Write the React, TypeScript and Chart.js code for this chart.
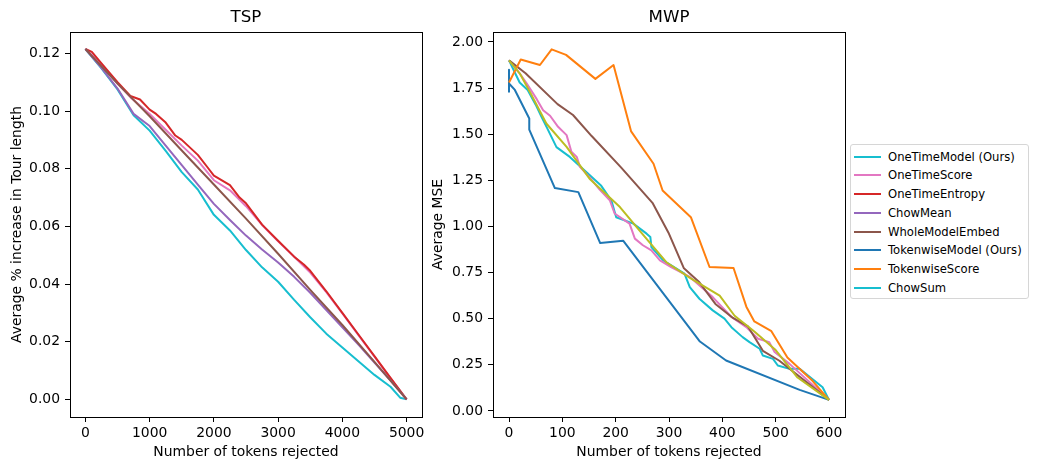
import React, { useEffect, useRef } from "react";
import { Chart, registerables } from "chart.js";

Chart.register(...registerables);

// ---------- tick values ----------
const TSP_X_TICKS = [0, 1000, 2000, 3000, 4000, 5000];
const TSP_Y_TICKS = [0, 0.02, 0.04, 0.06, 0.08, 0.1, 0.12];
const MWP_X_TICKS = [0, 100, 200, 300, 400, 500, 600];
const MWP_Y_TICKS = [0, 0.25, 0.5, 0.75, 1.0, 1.25, 1.5, 1.75, 2.0];

// ---------- TSP data ----------
const TSP_CYAN_X = [0, 250, 500, 750, 1000, 1250, 1500, 1750, 2000, 2250, 2500, 2750, 3000, 3250, 3500, 3750, 4000, 4250, 4500, 4750, 4900, 5000];
const TSP_CYAN_Y = [0.1215, 0.1148, 0.1075, 0.0985, 0.0932, 0.0862, 0.0788, 0.0728, 0.0640, 0.0586, 0.0518, 0.0458, 0.0408, 0.0345, 0.0285, 0.0228, 0.0180, 0.0132, 0.0085, 0.0044, 0.0006, 0.0];

const TSP_PINK_X = [0, 250, 500, 700, 1000, 1250, 1500, 1750, 2000, 2250, 2500, 2750, 3000, 3250, 3500, 3750, 4000, 4250, 4500, 4750, 5000];
const TSP_PINK_Y = [0.1215, 0.1162, 0.1095, 0.1048, 0.0990, 0.0935, 0.0880, 0.0828, 0.0760, 0.0725, 0.0670, 0.0605, 0.0548, 0.0495, 0.0440, 0.0372, 0.0298, 0.0223, 0.0148, 0.0073, 0.0];

const TSP_RED_X = [0, 100, 250, 500, 700, 850, 1000, 1100, 1250, 1400, 1500, 1750, 1900, 2000, 2250, 2400, 2500, 2600, 2750, 3000, 3250, 3400, 3500, 3750, 4000, 4250, 4500, 4750, 5000];
const TSP_RED_Y = [0.1215, 0.1205, 0.1165, 0.1100, 0.1052, 0.1040, 0.1005, 0.0990, 0.0960, 0.0915, 0.0900, 0.0848, 0.0805, 0.0776, 0.0743, 0.0700, 0.0680, 0.0650, 0.0606, 0.0550, 0.0495, 0.0468, 0.0446, 0.0375, 0.0300, 0.0225, 0.0150, 0.0075, 0.0];

const TSP_PURPLE_X = [0, 250, 500, 750, 1000, 1250, 1500, 1750, 2000, 2250, 2500, 2750, 3000, 3250, 3500, 3750, 4000, 4250, 4500, 4750, 5000];
const TSP_PURPLE_Y = [0.1215, 0.1150, 0.1078, 0.0990, 0.0948, 0.0880, 0.0812, 0.0745, 0.0678, 0.0622, 0.0568, 0.0520, 0.0475, 0.0425, 0.0370, 0.0310, 0.0250, 0.0190, 0.0128, 0.0065, 0.0];

const TSP_BROWN_X = [0, 500, 1000, 1500, 2000, 2500, 3000, 3500, 4000, 4500, 5000];
const TSP_BROWN_Y = [0.1215, 0.1095, 0.0982, 0.0863, 0.0745, 0.0627, 0.0505, 0.0380, 0.0258, 0.0130, 0.0];

// ---------- MWP data ----------
const MWP_CYAN_X = [0, 10, 20, 35, 50, 60, 72, 89, 114, 148, 173, 192, 201, 233, 258, 265, 267, 289, 329, 339, 357, 382, 404, 417, 438, 451, 470, 476, 495, 504, 526, 545, 588, 600];
const MWP_CYAN_Y = [1.90, 1.84, 1.78, 1.74, 1.66, 1.60, 1.53, 1.43, 1.377, 1.287, 1.22, 1.14, 1.05, 1.015, 0.961, 0.943, 0.888, 0.816, 0.744, 0.671, 0.608, 0.545, 0.50, 0.454, 0.40, 0.373, 0.337, 0.30, 0.282, 0.246, 0.228, 0.228, 0.128, 0.06];

const MWP_PINK_X = [0, 20, 33, 52, 64, 77, 92, 108, 117, 127, 133, 150, 170, 189, 198, 226, 236, 251, 267, 283, 304, 339, 382, 417, 445, 467, 488, 498, 526, 600];
const MWP_PINK_Y = [1.90, 1.83, 1.776, 1.69, 1.63, 1.60, 1.54, 1.495, 1.405, 1.377, 1.323, 1.27, 1.20, 1.142, 1.07, 1.015, 0.934, 0.898, 0.87, 0.816, 0.78, 0.726, 0.617, 0.509, 0.454, 0.391, 0.373, 0.319, 0.255, 0.06];

const MWP_BROWN_X = [0, 31, 91, 120, 155, 210, 269, 299, 328, 357, 387, 420, 448, 476, 507, 600];
const MWP_BROWN_Y = [1.90, 1.83, 1.663, 1.604, 1.49, 1.32, 1.128, 0.966, 0.773, 0.697, 0.58, 0.504, 0.458, 0.326, 0.272, 0.06];

const MWP_BLUE_X = [0, 0, 0, 11, 38, 38, 86, 130, 171, 214, 358, 407, 545, 600];
const MWP_BLUE_Y = [1.85, 1.73, 1.775, 1.74, 1.585, 1.525, 1.208, 1.186, 0.91, 0.923, 0.376, 0.273, 0.114, 0.06];

const MWP_ORANGE_X = [0, 22, 58, 80, 107, 162, 196, 229, 271, 288, 341, 376, 421, 445, 460, 492, 522, 569, 600];
const MWP_ORANGE_Y = [1.78, 1.905, 1.875, 1.96, 1.93, 1.80, 1.875, 1.515, 1.34, 1.195, 1.05, 0.78, 0.775, 0.565, 0.485, 0.432, 0.29, 0.163, 0.06];

const MWP_OLIVE_X = [0, 20, 39, 70, 108, 151, 208, 250, 295, 340, 395, 423, 460, 500, 541, 600];
const MWP_OLIVE_Y = [1.90, 1.83, 1.73, 1.558, 1.431, 1.259, 1.105, 0.96, 0.806, 0.72, 0.625, 0.516, 0.43, 0.33, 0.181, 0.06];

// ---------- legend ----------
const LEGEND_LABELS = ["OneTimeModel (Ours)", "OneTimeScore", "OneTimeEntropy", "ChowMean", "WholeModelEmbed", "TokenwiseModel (Ours)", "TokenwiseScore", "ChowSum"];
const LEGEND_COLORS = ["#17becf", "#e377c2", "#d62728", "#9467bd", "#8c564b", "#1f77b4", "#ff7f0e", "#17becf"];

const FONT = "'DejaVu Sans', sans-serif";

function zip(xs: number[], ys: number[]) {
  return xs.map((x, i) => ({ x, y: ys[i] }));
}

function ds(label: string, color: string, xs: number[], ys: number[], idx: number) {
  return {
    label,
    data: zip(xs, ys),
    borderColor: color,
    backgroundColor: color,
    borderWidth: 2,
    pointRadius: 0,
    tension: 0,
    fill: false,
    borderJoinStyle: "round" as const,
    order: -idx,
  };
}

const framePlugin = {
  id: "frame",
  afterDatasetsDraw(chart: any) {
    const { ctx, chartArea } = chart;
    ctx.save();
    ctx.strokeStyle = "#000";
    ctx.lineWidth = 1;
    ctx.strokeRect(
      Math.round(chartArea.left) + 0.5,
      Math.round(chartArea.top) + 0.5,
      Math.round(chartArea.right) - Math.round(chartArea.left),
      Math.round(chartArea.bottom) - Math.round(chartArea.top)
    );
    ctx.restore();
  },
};

function makeOptions(p: {
  title: string;
  xmin: number; xmax: number; xticks: number[];
  ymin: number; ymax: number; yticks: number[];
  ytitle: string; yWidth: number; yTitlePad: number; padRight: number;
}) {
  return {
    responsive: false,
    animation: false as const,
    devicePixelRatio: 1,
    layout: { padding: { left: 0, right: p.padRight, top: 0, bottom: 0 } },
    plugins: {
      legend: { display: false },
      tooltip: { enabled: false },
      title: {
        display: true,
        text: p.title,
        fullSize: false,
        color: "#000",
        font: { family: FONT, size: 16.67, weight: "normal" as const, lineHeight: 1.2 },
        padding: { top: 8, bottom: 4 },
      },
    },
    scales: {
      x: {
        type: "linear" as const,
        min: p.xmin,
        max: p.xmax,
        afterBuildTicks: (s: any) => { s.ticks = p.xticks.map((v) => ({ value: v })); },
        afterFit: (s: any) => { s.height = 53; },
        grid: { display: true, drawOnChartArea: false, drawTicks: true, tickLength: 5, tickColor: "#000", tickWidth: 1 },
        border: { display: false },
        ticks: {
          color: "#000",
          padding: 3,
          maxRotation: 0,
          autoSkip: false,
          font: { family: FONT, size: 13.9 },
          callback: (v: any) => String(Math.round(Number(v))),
        },
        title: {
          display: true,
          text: "Number of tokens rejected",
          color: "#000",
          font: { family: FONT, size: 13.9 },
          padding: { top: 0, bottom: 9 },
        },
      },
      y: {
        type: "linear" as const,
        min: p.ymin,
        max: p.ymax,
        afterBuildTicks: (s: any) => { s.ticks = p.yticks.map((v) => ({ value: v })); },
        afterFit: (s: any) => { s.width = p.yWidth; },
        grid: { display: true, drawOnChartArea: false, drawTicks: true, tickLength: 5, tickColor: "#000", tickWidth: 1 },
        border: { display: false },
        ticks: {
          color: "#000",
          padding: 5,
          autoSkip: false,
          font: { family: FONT, size: 13.9 },
          callback: (v: any) => Number(v).toFixed(2),
        },
        title: {
          display: true,
          text: p.ytitle,
          color: "#000",
          font: { family: FONT, size: 13.9 },
          padding: { top: p.yTitlePad, bottom: 0 },
        },
      },
    },
  };
}

export default function App() {
  const ref1 = useRef<HTMLCanvasElement>(null);
  const ref2 = useRef<HTMLCanvasElement>(null);

  useEffect(() => {
    const c1 = new Chart(ref1.current!, {
      type: "line",
      data: {
        datasets: [
          ds("OneTimeModel (Ours)", "#17becf", TSP_CYAN_X, TSP_CYAN_Y, 0),
          ds("OneTimeScore", "#e377c2", TSP_PINK_X, TSP_PINK_Y, 1),
          ds("OneTimeEntropy", "#d62728", TSP_RED_X, TSP_RED_Y, 2),
          ds("ChowMean", "#9467bd", TSP_PURPLE_X, TSP_PURPLE_Y, 3),
          ds("WholeModelEmbed", "#8c564b", TSP_BROWN_X, TSP_BROWN_Y, 4),
        ],
      },
      options: makeOptions({
        title: "TSP",
        xmin: -240, xmax: 5240, xticks: TSP_X_TICKS,
        ymin: -0.0061, ymax: 0.1274, yticks: TSP_Y_TICKS,
        ytitle: "Average % increase in Tour length",
        yWidth: 70, yTitlePad: 9, padRight: 8,
      }) as any,
      plugins: [framePlugin],
    });
    const c2 = new Chart(ref2.current!, {
      type: "line",
      data: {
        datasets: [
          ds("OneTimeModel (Ours)", "#17becf", MWP_CYAN_X, MWP_CYAN_Y, 0),
          ds("OneTimeScore", "#e377c2", MWP_PINK_X, MWP_PINK_Y, 1),
          ds("WholeModelEmbed", "#8c564b", MWP_BROWN_X, MWP_BROWN_Y, 2),
          ds("TokenwiseModel (Ours)", "#1f77b4", MWP_BLUE_X, MWP_BLUE_Y, 3),
          ds("TokenwiseScore", "#ff7f0e", MWP_ORANGE_X, MWP_ORANGE_Y, 4),
          ds("ChowSum", "#bcbd22", MWP_OLIVE_X, MWP_OLIVE_Y, 5),
        ],
      },
      options: makeOptions({
        title: "MWP",
        xmin: -30, xmax: 630, xticks: MWP_X_TICKS,
        ymin: -0.033, ymax: 2.054, yticks: MWP_Y_TICKS,
        ytitle: "Average MSE",
        yWidth: 63, yTitlePad: 0, padRight: 7,
      }) as any,
      plugins: [framePlugin],
    });
    return () => {
      c1.destroy();
      c2.destroy();
    };
  }, []);

  return (
    <div style={{ position: "fixed", left: 0, top: 0, width: 1039, height: 470, background: "#fff", fontFamily: FONT }}>
      <canvas ref={ref1} width={430} height={470} style={{ position: "absolute", left: 0, top: 0, width: 430, height: 470 }} />
      <canvas ref={ref2} width={422} height={470} style={{ position: "absolute", left: 430, top: 0, width: 422, height: 470 }} />
      <div
        style={{
          position: "absolute",
          left: 850,
          top: 144,
          width: 179,
          height: 155,
          boxSizing: "border-box",
          border: "1px solid #d6d6d6",
          borderRadius: 3,
          background: "#fff",
        }}
      >
        {LEGEND_LABELS.map((lab, i) => (
          <div key={i} style={{ position: "absolute", left: 0, top: 2.7 + 18.7 * i, height: 18, width: 177 }}>
            <div style={{ position: "absolute", left: 3, top: 8, width: 27, height: 2, background: LEGEND_COLORS[i] }} />
            <div style={{ position: "absolute", left: 37, top: 0, lineHeight: "18px", fontSize: 11.6, color: "#000", whiteSpace: "nowrap" }}>{lab}</div>
          </div>
        ))}
      </div>
    </div>
  );
}
